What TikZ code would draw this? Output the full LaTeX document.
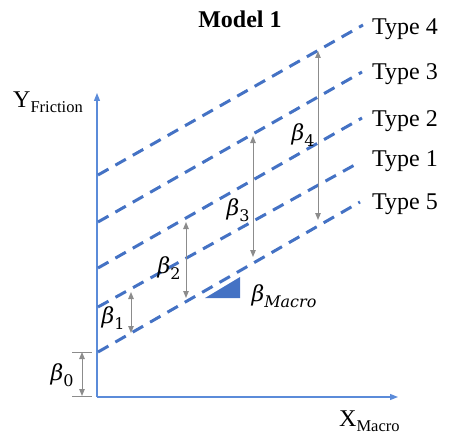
\documentclass[tikz,border=0pt]{standalone}
\usepackage{fontspec}
\setmainfont{Liberation Serif}
\newfontfamily\betafont{DejaVu Serif}
\usetikzlibrary{arrows.meta}
\definecolor{lineblue}{HTML}{4472C4}
\definecolor{axisblue}{HTML}{5B8BD9}
\definecolor{arrgray}{HTML}{8C8C8C}
\newcommand{\bet}[1]{{\fontsize{22}{26}\betafont\itshape β}\raisebox{-6pt}{\fontsize{16}{18}\betafont #1}}
\tikzset{
  typeline/.style={draw=lineblue, line width=3pt, dash pattern=on 12pt off 8pt},
  axisline/.style={draw=axisblue, line width=1.3pt, -{Triangle[length=8pt,width=6pt]}},
  gaparrow/.style={draw=arrgray, line width=1pt, {Triangle[length=7pt,width=5.5pt]}-{Triangle[length=7pt,width=5.5pt]}},
  tick/.style={draw=arrgray, line width=1pt},
  typelabel/.style={anchor=base west, inner sep=0pt, font=\fontsize{24}{28}\selectfont},
  betalabel/.style={inner sep=0pt},
}
\begin{document}
\begin{tikzpicture}[x=1pt,y=-1pt]
\useasboundingbox (0,0) rectangle (452,441);
% axes
\coordinate (origin) at (97,397);
\coordinate (ytop) at (97,93);
\coordinate (xend) at (398,397);
\draw[axisline] (origin) -- (ytop);
\draw[axisline] (origin) -- (xend);
% type lines
\coordinate (t4s) at (98,175); \coordinate (t4e) at (363,25);
\coordinate (t3s) at (98,222); \coordinate (t3e) at (362,72);
\coordinate (t2s) at (98,268); \coordinate (t2e) at (362,118);
\coordinate (t1s) at (98,307); \coordinate (t1e) at (360,162);
\coordinate (t5s) at (98,352); \coordinate (t5e) at (360,202);
\draw[typeline] (t4s) -- (t4e);
\draw[typeline] (t3s) -- (t3e);
\draw[typeline] (t2s) -- (t2e);
\draw[typeline] (t1s) -- (t1e);
\draw[typeline] (t5s) -- (t5e);
% labels
\node[anchor=base, inner sep=0pt, font=\fontsize{24}{28}\selectfont\bfseries] (title) at (240,28) {Model 1};
\node[typelabel] (l4) at (372,35) {Type 4};
\node[typelabel] (l3) at (372,80) {Type 3};
\node[typelabel] (l2) at (372,126) {Type 2};
\node[typelabel] (l1) at (372,166) {Type 1};
\node[typelabel] (l5) at (372,209) {Type 5};
\node[anchor=base west, inner sep=0pt] (ylab) at (13,108) {\fontsize{24}{28}\selectfont Y\raisebox{-5pt}{\fontsize{16.5}{20}\selectfont Friction}};
\node[anchor=base west, inner sep=0pt] (xlab) at (339,426) {\fontsize{24}{28}\selectfont X\raisebox{-5pt}{\fontsize{16.5}{20}\selectfont Macro}};
% gap arrows
\coordinate (b0t) at (82,352); \coordinate (b0b) at (82,396);
\draw[tick] (72,352) -- (92,352);
\draw[tick] (72,396) -- (92,396);
\draw[gaparrow] (b0t) -- (b0b);
\coordinate (b1t) at (131,292); \coordinate (b1b) at (131,333);
\draw[gaparrow] (b1t) -- (b1b);
\coordinate (b2t) at (186,222); \coordinate (b2b) at (186,298);
\draw[gaparrow] (b2t) -- (b2b);
\coordinate (b3t) at (253,136); \coordinate (b3b) at (253,257);
\draw[gaparrow] (b3t) -- (b3b);
\coordinate (b4t) at (318,51); \coordinate (b4b) at (318,220);
\draw[gaparrow] (b4t) -- (b4b);
% beta labels
\node[betalabel] (beta0) at (62,375) {\bet{0}};
\node[betalabel] (beta1) at (113,318) {\bet{1}};
\node[betalabel] (beta2) at (169,268) {\bet{2}};
\node[betalabel] (beta3) at (238,210) {\bet{3}};
\node[betalabel] (beta4) at (303,135) {\bet{4}};
% slope triangle
\fill[lineblue] (205,298) -- (240,298) -- (240,277) -- cycle;
\node[betalabel] (betam) at (284,296) {\bet{\itshape Macro}};
\end{tikzpicture}
\end{document}
